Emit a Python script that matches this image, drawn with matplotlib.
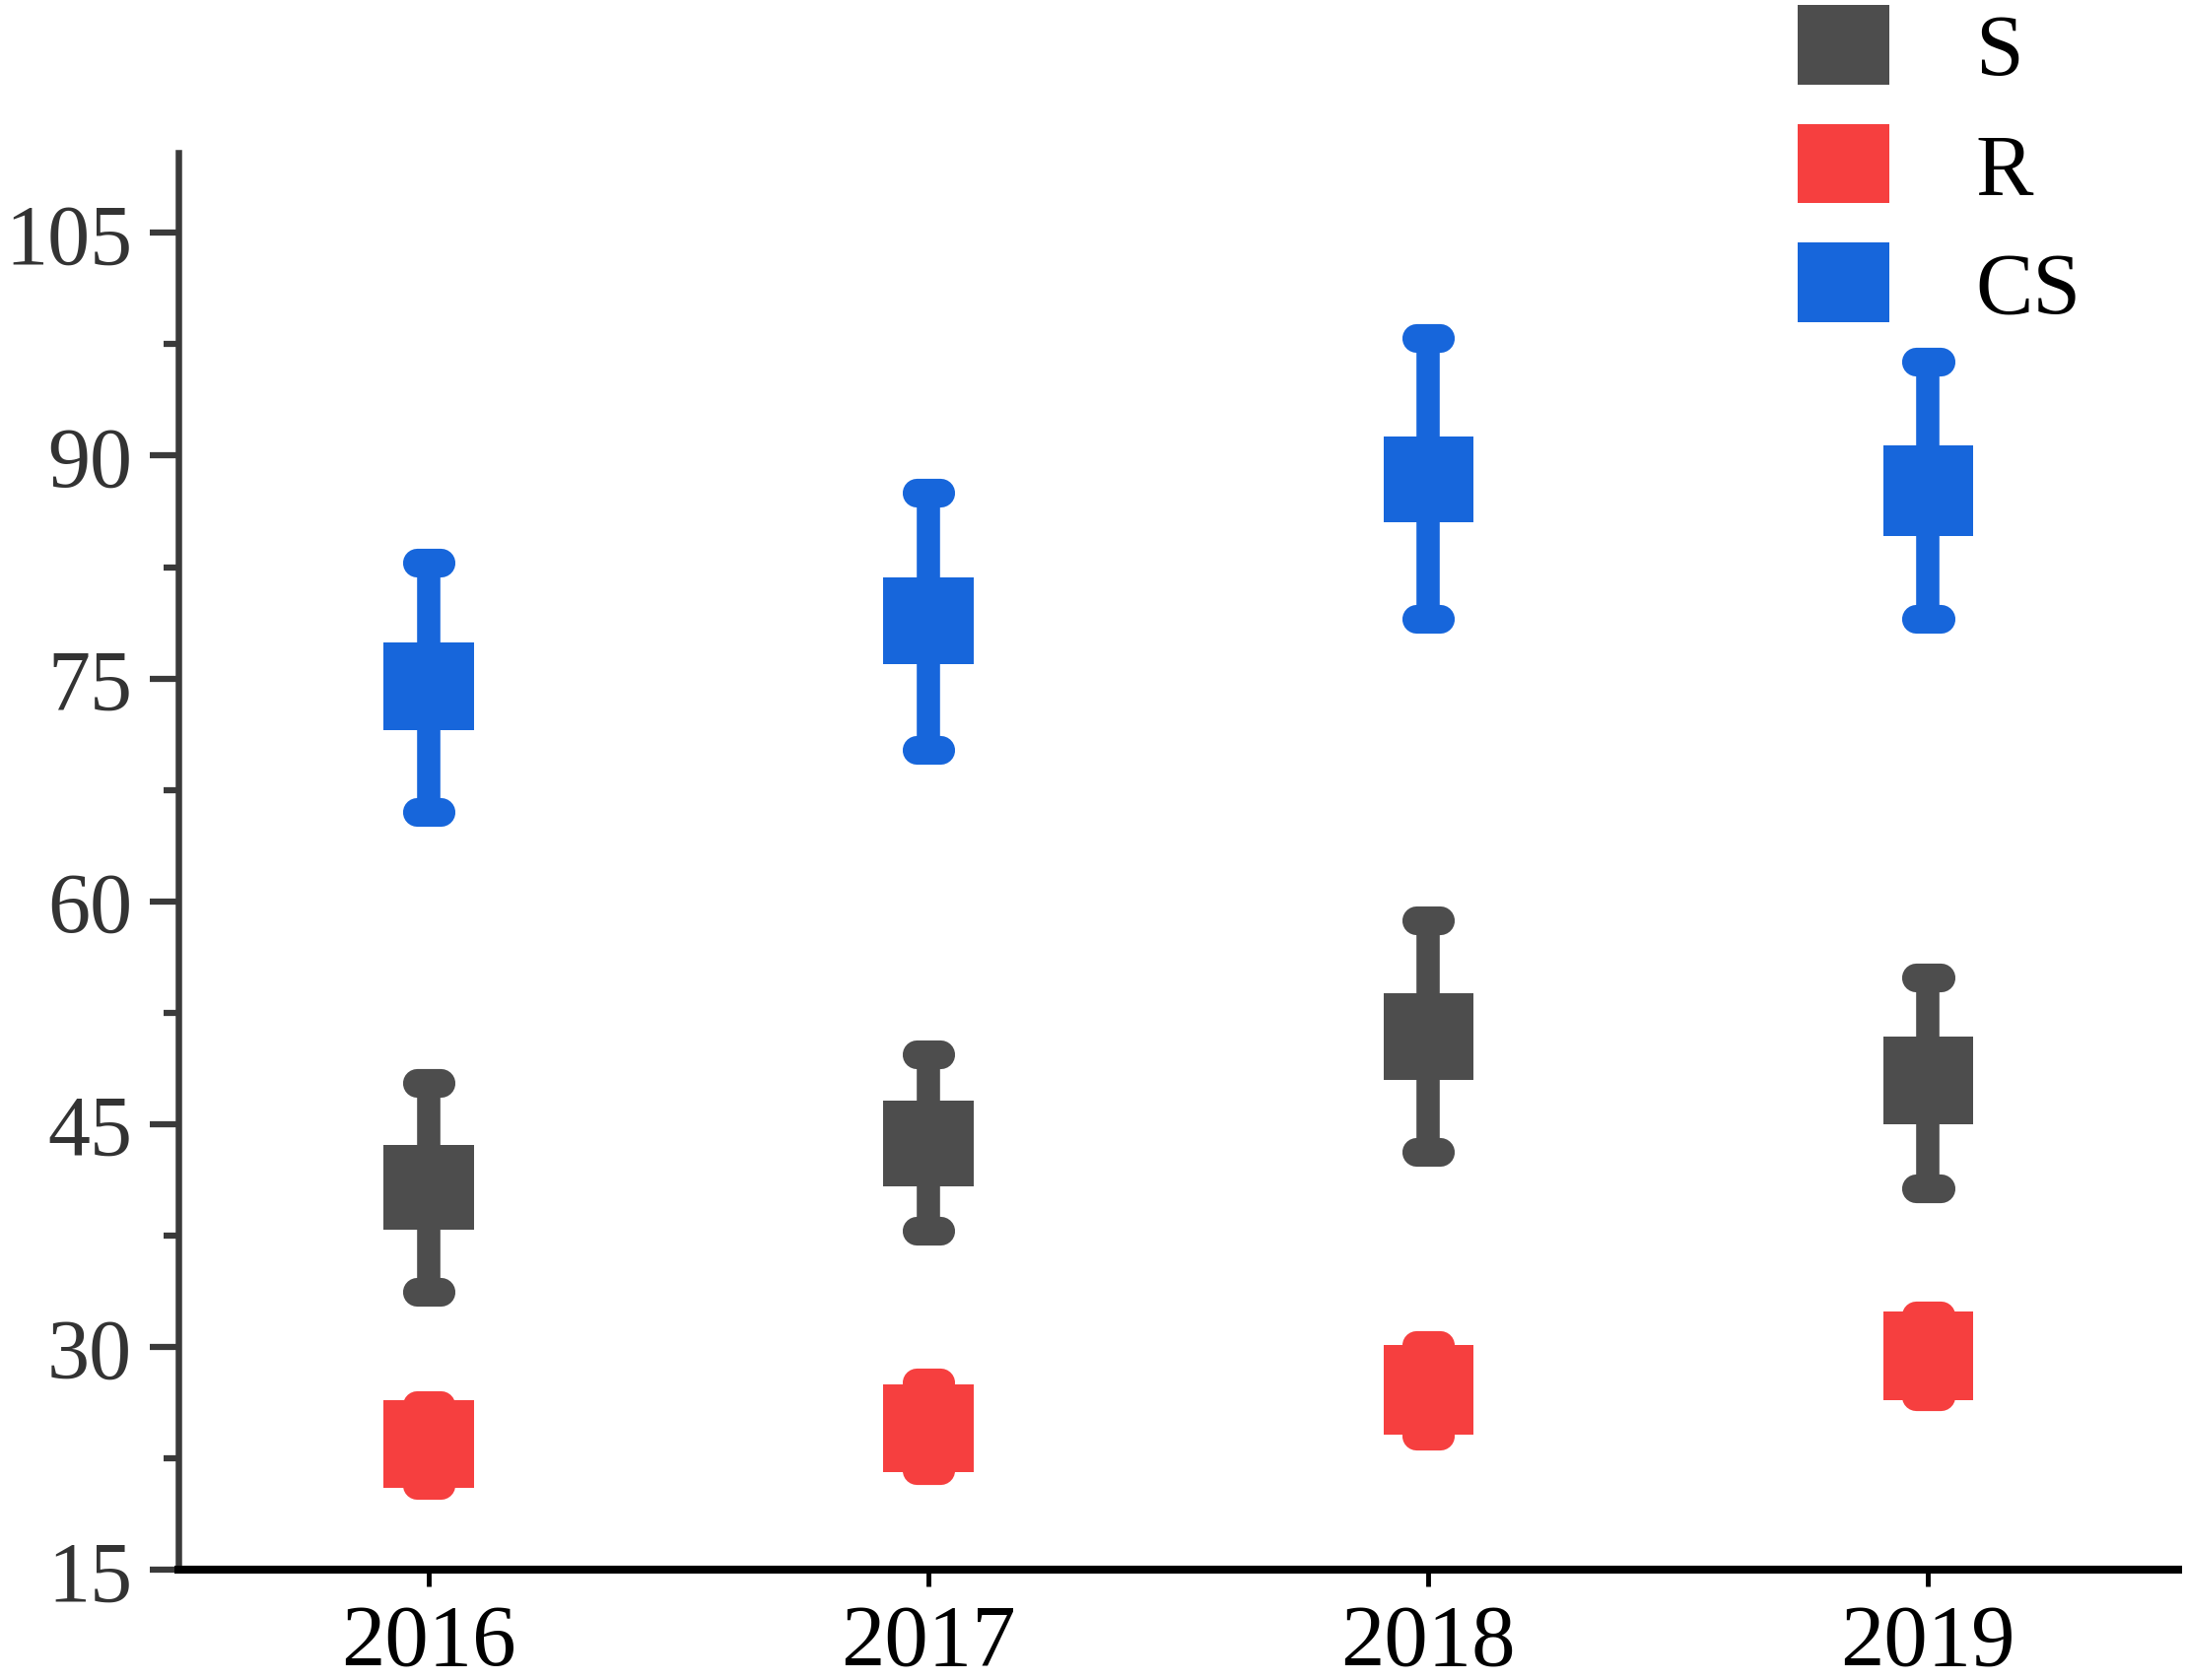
import matplotlib
matplotlib.use('Agg')
import matplotlib.pyplot as plt
from matplotlib.patches import Patch

# values (box = q1..q3, whiskers = lo..hi)
years = [2016, 2017, 2018, 2019]

s_lo = [33.7, 37.8, 43.1, 40.7]
s_q1 = [37.9, 40.8, 48.0, 45.0]
s_q3 = [43.6, 46.6, 53.8, 50.9]
s_hi = [47.8, 49.7, 58.7, 54.9]

r_lo = [20.7, 21.7, 24.0, 26.7]
r_q1 = [20.5, 21.6, 24.1, 26.4]
r_q3 = [26.4, 27.5, 30.1, 32.4]
r_hi = [26.1, 27.6, 30.1, 32.1]

cs_lo = [66.0, 70.2, 79.0, 79.0]
cs_q1 = [71.5, 76.0, 85.5, 84.6]
cs_q3 = [77.4, 81.8, 91.3, 90.7]
cs_hi = [82.8, 87.5, 97.9, 96.3]

series = [
    ('S', '#4d4d4d', s_lo, s_q1, s_q3, s_hi),
    ('R', '#f63f3f', r_lo, r_q1, r_q3, r_hi),
    ('CS', '#1766db', cs_lo, cs_q1, cs_q3, cs_hi),
]

plt.rcParams['font.family'] = ['Liberation Serif', 'DejaVu Serif']

fig = plt.figure(figsize=(22.17, 17.06), dpi=100)
ax = fig.add_axes([0.0818, 0.0656, 0.915, 0.843])

box_w = 0.18
cap_half = 0.024

for name, color, lo, q1, q3, hi in series:
    ax.vlines(years, lo, hi, colors=color, linewidth=17, zorder=2)
    left = [yr - cap_half for yr in years]
    right = [yr + cap_half for yr in years]
    ax.hlines(hi, left, right, colors=color, linewidth=21,
              capstyle='round', zorder=2)
    ax.hlines(lo, left, right, colors=color, linewidth=21,
              capstyle='round', zorder=2)
    heights = [b - a for a, b in zip(q1, q3)]
    ax.bar(years, heights, bottom=q1, width=box_w, color=color,
           linewidth=0, zorder=3)

ax.set_xlim(2015.5, 2019.5)
ax.set_ylim(15, 110.4)
ax.set_xticks(years)
ax.set_xticklabels([str(y) for y in years])
ax.set_yticks(range(15, 106, 15))
ax.set_yticks([22.5, 37.5, 52.5, 67.5, 82.5, 97.5], minor=True)

ax.spines['top'].set_visible(False)
ax.spines['right'].set_visible(False)
ax.spines['left'].set_color('#3a3a3a')
ax.spines['left'].set_linewidth(4.7)
ax.spines['bottom'].set_color('black')
ax.spines['bottom'].set_linewidth(5.8)
ax.spines['bottom'].set_zorder(4)

ax.tick_params(axis='y', which='major', length=21, width=4.5, color='#3a3a3a',
               labelsize=62, labelcolor='#333333', pad=13)
ax.tick_params(axis='y', which='minor', length=11, width=4.5, color='#3a3a3a')
ax.tick_params(axis='x', which='major', length=12, width=3.5, color='black',
               labelsize=64, labelcolor='black', pad=12)

handles = [Patch(facecolor=c, edgecolor='none', label=n) for n, c, *_ in series]
fig.legend(handles=handles, loc='upper left', bbox_to_anchor=(0.8227, 0.9965),
           frameon=False, fontsize=63, borderpad=0, borderaxespad=0,
           handlelength=1.06, handleheight=1.04, handletextpad=1.0,
           labelspacing=0.36)

fig.savefig('out.png', dpi=100, facecolor='white')
